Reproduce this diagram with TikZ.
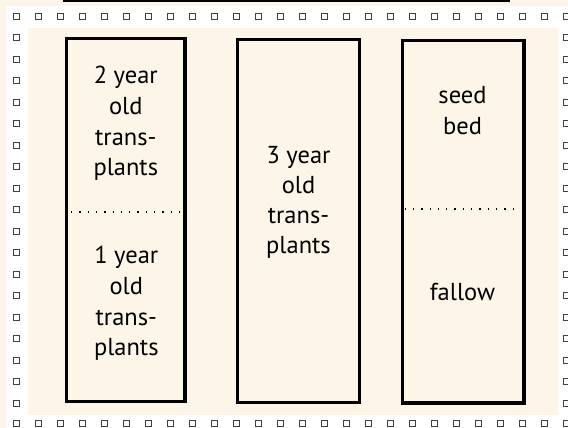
\documentclass[tikz,border=0pt]{standalone}
\usepackage{fontspec}
\setmainfont{PT Sans}
\definecolor{cream}{HTML}{FCF5E8}
\begin{document}
\begin{tikzpicture}[x=1pt,y=-1pt,
  plotbox/.style={draw=black, line width=3.3pt, inner sep=0pt},
  lbl/.style={font=\fontsize{24.5}{28}\selectfont, anchor=base, inner sep=0pt, text=black},
  divider/.style={line width=1.3pt, dash pattern=on 1.3pt off 7pt},
  sq/.style={draw=black!75, fill=white, line width=0.9pt, minimum size=6pt, inner sep=0pt}]
\useasboundingbox (0,0) rectangle (568,428);
% background and frame
\fill[cream] (0,0) rectangle (568,428);
\fill[white] (6,6) rectangle (570,430);
\fill[cream] (28,28) rectangle (558,415);
% square border
\foreach \i in {0,...,25} {
  \node[sq] at (16+22*\i,16) {};
  \node[sq] at (16+22*\i,423) {};
}
\foreach \j in {1,...,18} {
  \node[sq] at (16,16+21.5*\j) {};
  \node[sq] at (566,16+21.5*\j) {};
}
% title underline (title itself lies above the picture)
\coordinate (ul1) at (63,0.9);
\coordinate (ul2) at (510,0.9);
\draw[line width=2pt] (ul1) -- (ul2);
% plots
\node[plotbox, minimum width=118.3pt, minimum height=363pt] (b1) at (125.8,220.2) {};
\node[plotbox, minimum width=121.6pt, minimum height=362.8pt] (b2) at (298.5,221.1) {};
\node[plotbox, minimum width=121.3pt, minimum height=362.3pt] (b3) at (463.4,221.9) {};
% dividers
\draw[divider] ([xshift=6pt]b1.west |- 0,212) -- ([xshift=-6pt]b1.east |- 0,212);
\draw[divider] ([xshift=3.5pt]b3.west |- 0,209) -- ([xshift=-5pt]b3.east |- 0,209);
% plot 1 labels
\node[lbl] (a1) at (125.8,84) {2 year};
\node[lbl] (a2) at (125.8,114.5) {old};
\node[lbl] (a3) at (125.8,145) {trans-};
\node[lbl] (a4) at (125.8,175) {plants};
\node[lbl] (c1) at (126.3,263.5) {1 year};
\node[lbl] (c2) at (126.3,294.5) {old};
\node[lbl] (c3) at (126.3,325) {trans-};
\node[lbl] (c4) at (126.3,355) {plants};
% plot 2 labels
\node[lbl] (d1) at (298.5,163) {3 year};
\node[lbl] (d2) at (298.5,193) {old};
\node[lbl] (d3) at (298.5,223) {trans-};
\node[lbl] (d4) at (298.5,253) {plants};
% plot 3 labels
\node[lbl] (e1) at (462.5,103.3) {seed};
\node[lbl] (e2) at (462.5,135) {bed};
\node[lbl] (f1) at (462.5,300) {fallow};
\end{tikzpicture}
\end{document}
